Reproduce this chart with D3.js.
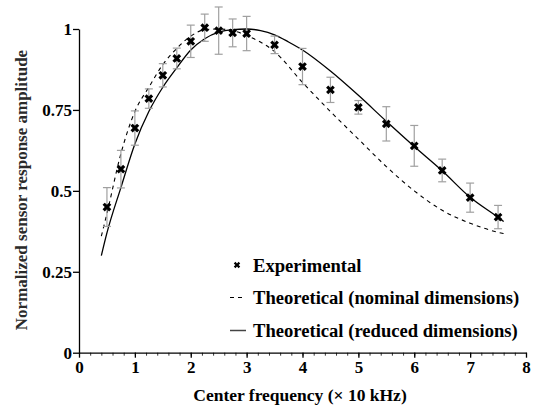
<!DOCTYPE html>
<html>
<head>
<meta charset="utf-8">
<script src="https://cdn.jsdelivr.net/npm/d3@7"></script>
<style>
  body { margin: 0; background: #fff; }
  svg { display: block; font-family: "Liberation Serif", "Times New Roman", serif; font-weight: bold; }
</style>
</head>
<body>
<div id="chart_div"></div>
<script>
// experimental points (x in units of 10 kHz)
var expFreq = [0.5, 0.75, 1, 1.25, 1.5, 1.75, 2, 2.25, 2.5, 2.75, 3, 3.5, 4, 4.5, 5, 5.5, 6, 6.5, 7, 7.5];
var expAmp  = [0.45, 0.567, 0.694, 0.785, 0.857, 0.909, 0.962, 1.004, 0.995, 0.988, 0.986, 0.951, 0.884, 0.812, 0.758, 0.707, 0.639, 0.563, 0.479, 0.419];
var expErr  = [0.06, 0.058, 0.053, 0.03, 0.036, 0.032, 0.05, 0.042, 0.073, 0.043, 0.053, 0.027, 0.056, 0.039, 0.021, 0.053, 0.063, 0.035, 0.045, 0.036];

// theoretical curve, nominal dimensions (dashed)
var nomFreq = [0.4, 0.5, 0.75, 1, 1.25, 1.5, 1.75, 2, 2.25, 2.5, 2.75, 3, 3.5, 4, 4.5, 5, 5.5, 6, 6.5, 7, 7.5, 7.6];
var nomAmp  = [0.36, 0.43, 0.615, 0.745, 0.82, 0.89, 0.94, 0.978, 0.998, 1.0, 0.995, 0.98, 0.93, 0.835, 0.745, 0.66, 0.575, 0.5, 0.44, 0.4, 0.372, 0.368];

// theoretical curve, reduced dimensions (solid)
var redFreq = [0.4, 0.5, 0.75, 1, 1.25, 1.5, 1.75, 2, 2.25, 2.5, 2.75, 3, 3.25, 3.5, 3.75, 4, 4.5, 5, 5.5, 6, 6.5, 7, 7.5, 7.6];
var redAmp  = [0.30, 0.37, 0.51, 0.645, 0.745, 0.82, 0.88, 0.935, 0.97, 0.99, 0.998, 1.0, 0.995, 0.982, 0.96, 0.935, 0.87, 0.795, 0.715, 0.637, 0.562, 0.48, 0.418, 0.405];

var xTicks = [0, 1, 2, 3, 4, 5, 6, 7, 8];
var yTicks = [0, 0.25, 0.5, 0.75, 1];
var legendLabels = ["Experimental", "Theoretical (nominal dimensions)", "Theoretical (reduced dimensions)"];

var width = 534, height = 408;
var margin = { top: 29, right: 8, bottom: 55, left: 79 };

var svg = d3.select("#chart_div").append("svg")
    .attr("width", width)
    .attr("height", height)
    .attr("viewBox", [0, 0, width, height]);

var x = d3.scaleLinear().domain([0, 8]).range([margin.left, width - margin.right]);
var y = d3.scaleLinear().domain([0, 1]).range([height - margin.bottom - 0.3, margin.top]);

// minor ticks on x axis
svg.append("g")
    .attr("transform", `translate(0,${y(0)})`)
    .call(d3.axisBottom(x).tickValues(d3.range(0, 8.01, 0.2)).tickSize(3).tickFormat(""))
    .call(g => g.select(".domain").remove())
    .call(g => g.selectAll("line").attr("stroke", "#000").attr("stroke-width", 0.8));

// x axis
svg.append("g")
    .attr("transform", `translate(0,${y(0)})`)
    .call(d3.axisBottom(x).tickValues(xTicks).tickSize(5).tickSizeOuter(0).tickFormat(d3.format("d")))
    .call(g => g.select(".domain").attr("stroke-width", 1.3))
    .call(g => g.selectAll(".tick line").attr("stroke-width", 1.3))
    .call(g => g.selectAll(".tick text")
        .attr("font-family", "Liberation Serif").attr("font-weight", "bold")
        .attr("font-size", 17).attr("fill", "#000").attr("dy", "0.95em").attr("y", 4));

// y axis
svg.append("g")
    .attr("transform", `translate(${x(0)},0)`)
    .call(d3.axisLeft(y).tickValues(yTicks).tickSize(6).tickSizeOuter(0).tickFormat(d => d === 0 || d === 1 ? d3.format("d")(d) : d))
    .call(g => g.select(".domain").attr("stroke-width", 1.3))
    .call(g => g.selectAll(".tick line").attr("stroke-width", 1.3))
    .call(g => g.selectAll(".tick text")
        .attr("font-family", "Liberation Serif").attr("font-weight", "bold")
        .attr("font-size", 17).attr("fill", "#000").attr("x", -7).attr("dy", "0.35em"));

// axis titles
svg.append("text")
    .attr("x", 300).attr("y", 401)
    .attr("text-anchor", "middle")
    .attr("font-size", 17.5)
    .text("Center frequency (× 10 kHz)");

svg.append("text")
    .attr("transform", `translate(27,${190}) rotate(-90)`)
    .attr("text-anchor", "middle")
    .attr("font-size", 17)
    .attr("fill", "#2a2a2a")
    .text("Normalized sensor response amplitude");

// curves
var line = d3.line().curve(d3.curveMonotoneX).x(d => x(d[0])).y(d => y(d[1]));
var nomPts = d3.zip(nomFreq, nomAmp);
var redPts = d3.zip(redFreq, redAmp);

svg.append("path")
    .attr("d", line(nomPts))
    .attr("fill", "none")
    .attr("stroke", "#000")
    .attr("stroke-width", 1.1)
    .attr("stroke-dasharray", "4,4");

svg.append("path")
    .attr("d", line(redPts))
    .attr("fill", "none")
    .attr("stroke", "#000")
    .attr("stroke-width", 1.3);

// error bars
var expPts = expFreq.map((f, i) => ({ f: f, a: expAmp[i], e: expErr[i] }));
var capW = 4;
var eb = svg.append("g").attr("stroke", "#a0a0a0").attr("stroke-width", 1.2);
eb.selectAll(".vbar").data(expPts).join("line")
    .attr("x1", d => x(d.f)).attr("x2", d => x(d.f))
    .attr("y1", d => y(d.a + d.e)).attr("y2", d => y(d.a - d.e));
eb.selectAll(".topcap").data(expPts).join("line")
    .attr("x1", d => x(d.f) - capW).attr("x2", d => x(d.f) + capW)
    .attr("y1", d => y(d.a + d.e)).attr("y2", d => y(d.a + d.e));
eb.selectAll(".botcap").data(expPts).join("line")
    .attr("x1", d => x(d.f) - capW).attr("x2", d => x(d.f) + capW)
    .attr("y1", d => y(d.a - d.e)).attr("y2", d => y(d.a - d.e));

// markers
var marker = d3.symbol().type(d3.symbolCross).size(48);
svg.append("g").selectAll("path").data(expPts).join("path")
    .attr("d", marker)
    .attr("transform", d => `translate(${x(d.f)},${y(d.a)}) rotate(45)`)
    .attr("fill", "#000");

// legend
var legX = 237, legY = [265, 297.5, 330.5];
var leg = svg.append("g");
leg.append("path")
    .attr("d", d3.symbol().type(d3.symbolCross).size(26))
    .attr("transform", `translate(${legX},${legY[0]}) rotate(45)`)
    .attr("fill", "#000");
leg.append("line")
    .attr("x1", legX - 7).attr("x2", legX + 7)
    .attr("y1", legY[1]).attr("y2", legY[1])
    .attr("stroke", "#000").attr("stroke-width", 1.1).attr("stroke-dasharray", "4,4");
leg.append("line")
    .attr("x1", legX - 7).attr("x2", legX + 9)
    .attr("y1", legY[2]).attr("y2", legY[2])
    .attr("stroke", "#444").attr("stroke-width", 1.5);
leg.selectAll("text").data(legendLabels).join("text")
    .attr("x", 253)
    .attr("y", (d, i) => legY[i])
    .attr("dy", "0.35em")
    .attr("font-size", 18.6)
    .text(d => d);
</script>
</body>
</html>
